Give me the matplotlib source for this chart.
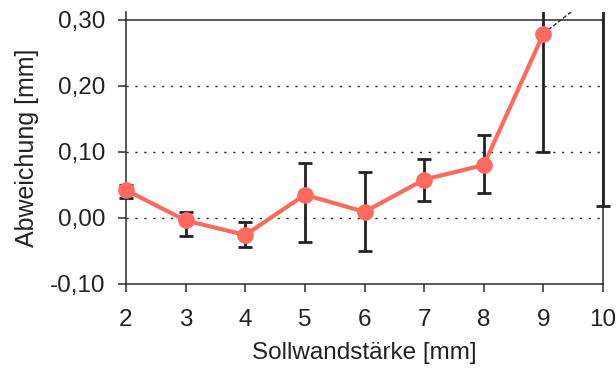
import numpy as np
import matplotlib
matplotlib.use("Agg")
from matplotlib import pyplot as plt
from matplotlib.transforms import Bbox, TransformedBbox

plt.rcParams['font.family'] = ['Liberation Sans', 'DejaVu Sans']

# Sollwandstärke und mittlere Abweichung
wand = [2, 3, 4, 5, 6, 7, 8, 9]
abw = [0.042, -0.004, -0.026, 0.035, 0.009, 0.058, 0.080, 0.279]
# Fehlerbalken (untere / obere Grenze), inkl. 10 mm
bar_x = [2, 3, 4, 5, 6, 7, 8, 9, 10]
bar_lo = [0.030, -0.027, -0.044, -0.036, -0.051, 0.026, 0.037, 0.100, 0.018]
bar_hi = [0.049, 0.009, -0.007, 0.083, 0.070, 0.089, 0.126, 0.460, 0.700]
bar_mid = [(a + b) / 2 for a, b in zip(bar_lo, bar_hi)]
# Fortsetzung 9 -> 10
trend_x = [9, 10]
trend_y = [0.279, 0.350]

fig, ax = plt.subplots(figsize=(6.16, 3.72), dpi=100)
fig.subplots_adjust(left=0.2045, right=0.979, top=0.968, bottom=0.237)

dark = '#2b2b2b'
for y in [0.0, 0.1, 0.2]:
    ax.axhline(y, color=dark, lw=1.0, ls=(0, (1.6, 4.8)), zorder=1)
ax.axhline(0.30, color=dark, lw=1.1, zorder=1)

mid = np.array(bar_mid)
yerr = [mid - np.array(bar_lo), np.array(bar_hi) - mid]
eb = ax.errorbar(bar_x, mid, yerr=yerr, fmt='none', ecolor='#222222',
                 elinewidth=2.0, capsize=4.8, capthick=2.0, zorder=3)
# etwas breitere Clipbox, damit der Balken bei 10 mm ganz sichtbar ist
clip = TransformedBbox(Bbox([[-0.02, 0.0], [1.02, 1.0]]), ax.transAxes)
for art in list(eb.lines[1]) + list(eb.lines[2]):
    art.set_clip_box(clip)

ax.plot(trend_x, trend_y, color=dark, lw=1.0, ls=(0, (3, 1.5)), zorder=2)
ax.plot(wand, abw, color='#ff6a5f', lw=3.0, marker='o', markersize=11,
        zorder=4, clip_on=False)

ax.set_xlim(2, 10)
ax.set_ylim(-0.10, 0.312)
ax.set_xticks(range(2, 11))
ax.set_yticks([-0.10, 0.0, 0.10, 0.20, 0.30])
ax.set_yticklabels(['-0,10', '0,00', '0,10', '0,20', '0,30'])

ax.spines['top'].set_visible(False)
for s in ['left', 'bottom', 'right']:
    ax.spines[s].set_color(dark)
    ax.spines[s].set_linewidth(1.1)
ax.spines['right'].set_bounds(-0.10, 0.30)
ax.tick_params(axis='both', direction='out', length=6, width=1.1,
               color=dark, labelsize=17.5, labelcolor='#222222')
ax.tick_params(axis='x', pad=12)
ax.tick_params(axis='y', pad=9)

ax.set_xlabel('Sollwandstärke [mm]', fontsize=17.5, color='#222222', labelpad=8)
ax.set_ylabel('Abweichung [mm]', fontsize=18, color='#222222', labelpad=8)

plt.savefig('out.png', dpi=100)
